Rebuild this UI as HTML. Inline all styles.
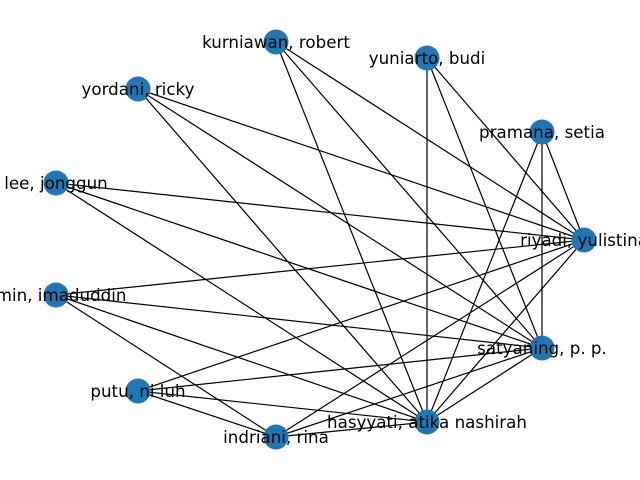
<!DOCTYPE html>
<html><head><meta charset="utf-8"><style>
html,body{margin:0;padding:0;background:#fff;width:640px;height:480px;overflow:hidden}
svg text{font-family:"DejaVu Sans","Liberation Sans",sans-serif;font-size:16.7px;fill:#000}
</style></head><body>
<svg id="chart" width="640" height="480" viewBox="0 0 640 480">
<g id="edges"></g>
<g id="nodes"></g>
<g id="labels"></g>
</svg>
<script>
const nodeNames = ["kurniawan, robert","yuniarto, budi","yordani, ricky","pramana, setia","lee, jonggun","riyadi, yulistina","amin, imaduddin","satyaning, p. p.","putu, ni luh","hasyyati, atika nashirah","indriani, rina"];
const nodeX = [276,427,138,542,56,584,56,542,138,427,276];
const nodeY = [42,58,89,132,183,240,295,348,391,422,437];
const edgeFrom = [0,0,0,1,1,1,2,2,2,3,3,3,4,4,4,6,6,6,6,8,8,8,8,10,10,10,9,9];
const edgeTo   = [5,7,9,5,7,9,5,7,9,5,7,9,5,7,9,5,7,9,10,5,7,9,10,9,5,7,5,7];
const ns="http://www.w3.org/2000/svg";
const eg=document.getElementById('edges'),ng=document.getElementById('nodes'),lg=document.getElementById('labels');
for(let i=0;i<edgeFrom.length;i++){
  const l=document.createElementNS(ns,'line');
  l.setAttribute('x1',nodeX[edgeFrom[i]]);l.setAttribute('y1',nodeY[edgeFrom[i]]);
  l.setAttribute('x2',nodeX[edgeTo[i]]);l.setAttribute('y2',nodeY[edgeTo[i]]);
  l.setAttribute('stroke','#000');l.setAttribute('stroke-width','1.2');
  
  
  eg.appendChild(l);
}
for(let i=0;i<nodeNames.length;i++){
  const c=document.createElementNS(ns,'circle');
  c.setAttribute('cx',nodeX[i]);c.setAttribute('cy',nodeY[i]);c.setAttribute('r','12.5');
  c.setAttribute('fill','#1f77b4');
  
  
  ng.appendChild(c);
  const t=document.createElementNS(ns,'text');
  t.setAttribute('x',nodeX[i]);t.setAttribute('y',nodeY[i]+6);
  t.setAttribute('text-anchor','middle');
  t.textContent=nodeNames[i];
  
  
  lg.appendChild(t);
}
</script>
</body></html>
